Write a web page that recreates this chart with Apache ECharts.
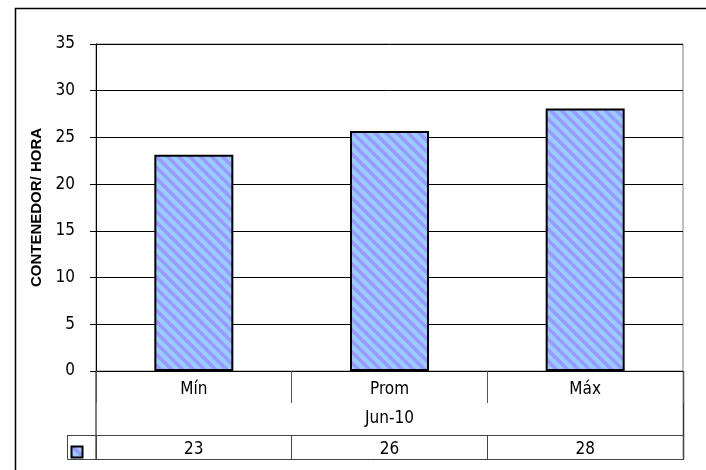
<!DOCTYPE html>
<html>
<head>
<meta charset="utf-8">
<script src="https://cdn.jsdelivr.net/npm/echarts@6/dist/echarts.min.js"></script>
<style>html,body{margin:0;padding:0;background:#fff}#c{width:706px;height:470px}</style>
</head>
<body>
<div id="c"></div>
<script>
// ---- data ----
var categories = ['Mín', 'Prom', 'Máx'];
var groupLabel = ['Jun-10'];
var values = [23.15, 25.7, 28.1];
var tableLabels = values.map(function (v) { return String(Math.round(v)); });
var yTicks = { min: 0, max: 35, interval: 5 };
var yName = 'CONTENEDOR/ HORA';

// ---- pattern ----
function makePattern() {
  var s = 11;
  var cv = document.createElement('canvas');
  cv.width = s; cv.height = s;
  var ctx = cv.getContext('2d');
  ctx.fillStyle = '#99CCFF';
  ctx.fillRect(0, 0, s, s);
  ctx.strokeStyle = '#9999FF';
  ctx.lineWidth = 3.5;
  ctx.beginPath();
  ctx.moveTo(-2, -2); ctx.lineTo(s + 2, s + 2);
  ctx.moveTo(-2 - s, -2); ctx.lineTo(2, s + 2);
  ctx.moveTo(s - 2, -2); ctx.lineTo(2 * s + 2, s + 2);
  ctx.stroke();
  return { image: cv, repeat: 'repeat' };
}
var pat = makePattern();

var GL = 96, GR = 683, GT = 44, GB = 371;
var font = '"DejaVu Sans Condensed", "DejaVu Sans", sans-serif';
var fs = 17;

var chart = echarts.init(document.getElementById('c'), null, { renderer: 'canvas' });
chart.setOption({
  animation: false,
  backgroundColor: '#fff',
  grid: { left: GL, right: 706 - GR, top: GT, bottom: 470 - GB, show: true, borderColor: '#808080', borderWidth: 1, backgroundColor: 'transparent' },
  xAxis: [
    {
      type: 'category', data: categories, position: 'bottom',
      axisLine: { show: true, lineStyle: { color: '#000', width: 1 } },
      axisTick: { show: true, length: 32, lineStyle: { color: '#555', width: 1 } },
      axisLabel: { color: '#000', fontFamily: font, fontSize: fs, margin: 10 },
      splitLine: { show: false }
    },
    {
      type: 'category', data: groupLabel, position: 'bottom', offset: 0,
      axisLine: { show: false }, axisTick: { show: false },
      axisLabel: { color: '#000', fontFamily: font, fontSize: fs, margin: 39 }
    },
    {
      type: 'category', data: tableLabels, position: 'bottom', offset: 64,
      axisLine: { show: true, lineStyle: { color: '#444', width: 1 } },
      axisTick: { show: true, inside: false, length: 24, lineStyle: { color: '#444', width: 1 } },
      axisLabel: { color: '#000', fontFamily: font, fontSize: fs, margin: 6 }
    }
  ],
  yAxis: {
    type: 'value', min: yTicks.min, max: yTicks.max, interval: yTicks.interval,
    name: yName, nameLocation: 'middle', nameGap: 50, nameRotate: 90,
    nameTextStyle: { fontFamily: 'Liberation Sans', fontWeight: 'bold', fontSize: 15, color: '#000' },
    axisLine: { show: true, lineStyle: { color: '#000', width: 1 } },
    axisTick: { show: true, length: 6, lineStyle: { color: '#000' } },
    axisLabel: { color: '#000', fontFamily: font, fontSize: fs, margin: 21 },
    splitLine: { show: true, lineStyle: { color: '#000', width: 1 } }
  },
  series: [{
    type: 'bar', xAxisIndex: 0, data: values, barWidth: 79,
    itemStyle: { color: pat, borderColor: '#000', borderWidth: 2 }
  }],
  graphic: [
    { type: 'rect', silent: true, shape: { x: 15.5, y: 8.5, width: 720, height: 500 }, style: { fill: 'none', stroke: '#000', lineWidth: 1.5 } },
    { type: 'line', silent: true, shape: { x1: GL, y1: GB, x2: GL, y2: 459 }, style: { stroke: '#000', lineWidth: 1 } },
    { type: 'line', silent: true, shape: { x1: GR + 0.5, y1: GB, x2: GR + 0.5, y2: 459 }, style: { stroke: '#333', lineWidth: 1.5 } },
    { type: 'line', silent: true, shape: { x1: 67.5, y1: 435.5, x2: GL, y2: 435.5 }, style: { stroke: '#444', lineWidth: 1 } },
    { type: 'line', silent: true, shape: { x1: 67.5, y1: 435, x2: 67.5, y2: 459.5 }, style: { stroke: '#444', lineWidth: 1 } },
    { type: 'line', silent: true, shape: { x1: 67.5, y1: 459.5, x2: GR + 1, y2: 459.5 }, style: { stroke: '#444', lineWidth: 1 } },
    { type: 'rect', silent: true, shape: { x: 71.5, y: 446.5, width: 11, height: 11 }, style: { fill: pat, stroke: '#000', lineWidth: 2 } }
  ]
});
</script>
</body>
</html>
